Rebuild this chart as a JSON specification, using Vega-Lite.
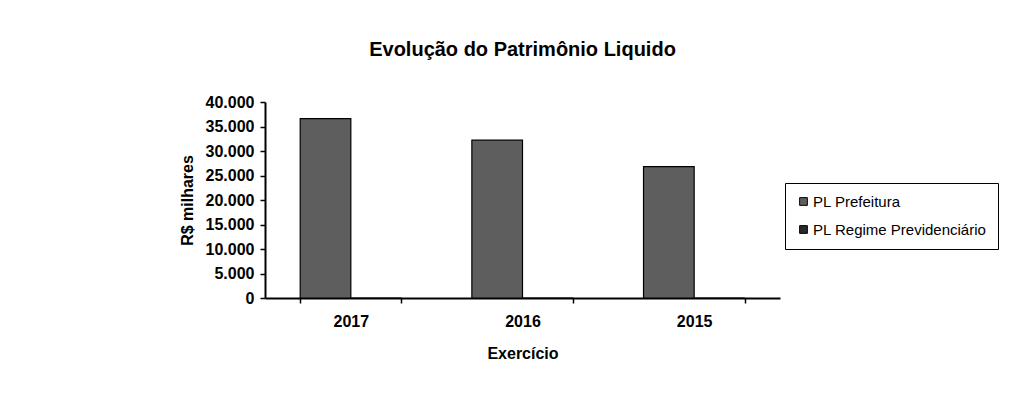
{
  "$schema": "https://vega.github.io/schema/vega-lite/v6.json",
  "autosize": {"type": "none"},
  "padding": {"left": 265, "top": 102, "right": 250, "bottom": 115},
  "width": 515,
  "height": 196,
  "background": "white",
  "config": {
    "font": "Liberation Sans",
    "view": {"stroke": null},
    "axis": {"domainColor": "black", "tickColor": "black", "domainWidth": 2, "tickWidth": 1.5, "labelColor": "black", "titleColor": "black"}
  },
  "title": {"text": "Evolução do Patrimônio Liquido", "fontSize": 20, "fontWeight": "bold", "anchor": "middle", "offset": 34, "color": "black", "font": "Liberation Sans"},
  "data": {"values": [
    {"ano": "2017", "serie": "PL Prefeitura", "valor": 36600},
    {"ano": "2017", "serie": "PL Regime Previdenciário", "valor": 0},
    {"ano": "2016", "serie": "PL Prefeitura", "valor": 32200},
    {"ano": "2016", "serie": "PL Regime Previdenciário", "valor": 0},
    {"ano": "2015", "serie": "PL Prefeitura", "valor": 26800},
    {"ano": "2015", "serie": "PL Regime Previdenciário", "valor": 0}
  ]},
  "mark": {"type": "bar", "stroke": "black", "strokeWidth": 1.2},
  "encoding": {
    "x": {"field": "ano", "type": "nominal", "sort": ["2017", "2016", "2015"],
      "scale": {"paddingInner": 0.41, "paddingOuter": 0.205},
      "axis": {"title": "Exercício", "labelAngle": 0, "labelFontSize": 16, "labelFontWeight": "bold", "labelPadding": 10, "titleFontSize": 16, "titleFontWeight": "bold", "titlePadding": 16, "tickBand": "extent", "tickSize": 5}},
    "xOffset": {"field": "serie", "type": "nominal", "scale": {"paddingInner": 0, "paddingOuter": 0}},
    "y": {"field": "valor", "type": "quantitative",
      "scale": {"domain": [0, 40000]},
      "axis": {"title": "R$ milhares", "values": [0, 5000, 10000, 15000, 20000, 25000, 30000, 35000, 40000], "format": ",d", "labelExpr": "replace(datum.label, ',', '.')", "grid": false, "labelFontSize": 16, "labelFontWeight": "bold", "labelPadding": 6, "tickSize": 5, "titleFontSize": 16, "titleFontWeight": "bold", "titlePadding": 10}},
    "color": {"field": "serie", "type": "nominal",
      "scale": {"domain": ["PL Prefeitura", "PL Regime Previdenciário"], "range": ["#5e5e5e", "#2a2a2a"]},
      "legend": {"title": null, "orient": "none", "legendX": 520, "legendY": 81, "symbolType": "square", "symbolSize": 60, "symbolStrokeColor": "black", "symbolStrokeWidth": 1, "labelFontSize": 15, "labelLimit": 400, "labelColor": "black", "strokeColor": "black", "padding": 11, "rowPadding": 12, "labelOffset": 2, "fillColor": "white"}}
  }
}
